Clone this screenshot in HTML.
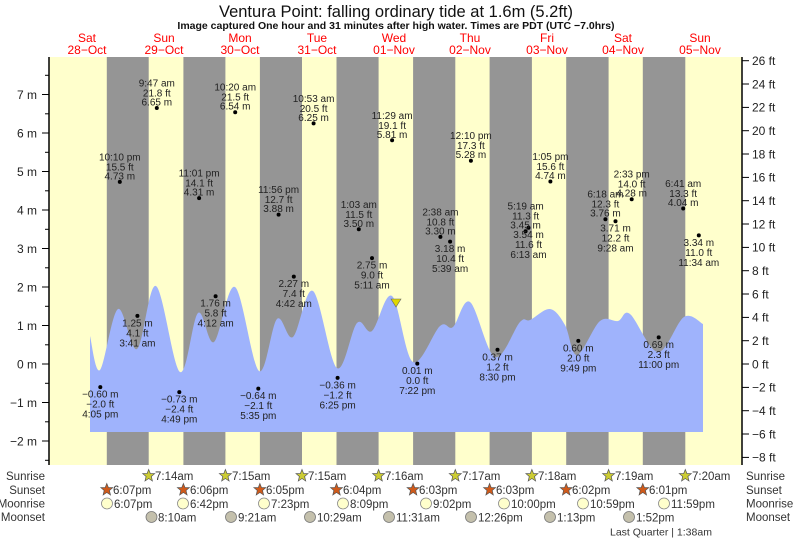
<!DOCTYPE html>
<html><head><meta charset="utf-8"><style>
html,body{margin:0;padding:0;background:#fff;}
svg{display:block;font-family:"Liberation Sans",sans-serif;}
.a{font-size:10px;text-anchor:middle;fill:#222;}
.r{font-size:11.5px;fill:#333;}
</style></head><body>
<svg width="793" height="539" viewBox="0 0 793 539" xmlns="http://www.w3.org/2000/svg">
<rect x="0" y="0" width="793" height="539" fill="#fff"/>
<text x="396" y="17" font-size="16.5" text-anchor="middle" fill="#111">Ventura Point: falling  ordinary tide at 1.6m (5.2ft)</text>
<text x="396" y="29" font-size="10.5" font-weight="bold" text-anchor="middle" fill="#111">Image captured One hour and 31 minutes after high water. Times are PDT (UTC −7.0hrs)</text>
<g font-size="12" fill="#ff0000" text-anchor="middle">
<text x="87" y="42">Sat</text><text x="87" y="54">28−Oct</text>
<text x="164" y="42">Sun</text><text x="164" y="54">29−Oct</text>
<text x="240" y="42">Mon</text><text x="240" y="54">30−Oct</text>
<text x="317" y="42">Tue</text><text x="317" y="54">31−Oct</text>
<text x="394" y="42">Wed</text><text x="394" y="54">01−Nov</text>
<text x="470" y="42">Thu</text><text x="470" y="54">02−Nov</text>
<text x="547" y="42">Fri</text><text x="547" y="54">03−Nov</text>
<text x="623" y="42">Sat</text><text x="623" y="54">04−Nov</text>
<text x="700" y="42">Sun</text><text x="700" y="54">05−Nov</text>
</g>
<rect x="49" y="57" width="693" height="408" fill="#ffffcc"/>
<g fill="#959595">
<rect x="106.8" y="57" width="41.9" height="408"/>
<rect x="183.4" y="57" width="42" height="408"/>
<rect x="259.9" y="57" width="42.1" height="408"/>
<rect x="336.5" y="57" width="42.1" height="408"/>
<rect x="413.1" y="57" width="42.2" height="408"/>
<rect x="489.6" y="57" width="42.3" height="408"/>
<rect x="566.2" y="57" width="42.4" height="408"/>
<rect x="642.8" y="57" width="42.5" height="408"/>
</g>
<path id="tide" fill="#9fb3fc" d=""/>
<polygon points="391,299 401,299 396,307" fill="#e0d800" stroke="#666" stroke-width="0.6"/>
<!-- axes -->
<line x1="49" y1="57" x2="49" y2="465" stroke="#000" stroke-width="1.5"/>
<line x1="742" y1="57" x2="742" y2="465" stroke="#000" stroke-width="1.5"/>
<g stroke="#000" stroke-width="1">
<line x1="42" y1="94.5" x2="49" y2="94.5"/><line x1="42" y1="133" x2="49" y2="133"/><line x1="42" y1="171.5" x2="49" y2="171.5"/><line x1="42" y1="210" x2="49" y2="210"/><line x1="42" y1="248.5" x2="49" y2="248.5"/><line x1="42" y1="287" x2="49" y2="287"/><line x1="42" y1="325.5" x2="49" y2="325.5"/><line x1="42" y1="364" x2="49" y2="364"/><line x1="42" y1="402.5" x2="49" y2="402.5"/><line x1="42" y1="441" x2="49" y2="441"/>
<line x1="45" y1="75.3" x2="49" y2="75.3"/><line x1="45" y1="113.8" x2="49" y2="113.8"/><line x1="45" y1="152.3" x2="49" y2="152.3"/><line x1="45" y1="190.8" x2="49" y2="190.8"/><line x1="45" y1="229.3" x2="49" y2="229.3"/><line x1="45" y1="267.8" x2="49" y2="267.8"/><line x1="45" y1="306.3" x2="49" y2="306.3"/><line x1="45" y1="344.8" x2="49" y2="344.8"/><line x1="45" y1="383.3" x2="49" y2="383.3"/><line x1="45" y1="421.8" x2="49" y2="421.8"/><line x1="45" y1="460.3" x2="49" y2="460.3"/>
</g>
<g font-size="12" fill="#222" text-anchor="end">
<text x="37" y="99">7 m</text><text x="37" y="137.5">6 m</text><text x="37" y="176">5 m</text><text x="37" y="214.5">4 m</text><text x="37" y="253">3 m</text><text x="37" y="291.5">2 m</text><text x="37" y="330">1 m</text><text x="37" y="368.5">0 m</text><text x="37" y="407">−1 m</text><text x="37" y="445.5">−2 m</text>
</g>
<g stroke="#000" stroke-width="1">
<line x1="742" y1="60.7" x2="749" y2="60.7"/><line x1="742" y1="84" x2="749" y2="84"/><line x1="742" y1="107.4" x2="749" y2="107.4"/><line x1="742" y1="130.7" x2="749" y2="130.7"/><line x1="742" y1="154" x2="749" y2="154"/><line x1="742" y1="177.4" x2="749" y2="177.4"/><line x1="742" y1="200.7" x2="749" y2="200.7"/><line x1="742" y1="224" x2="749" y2="224"/><line x1="742" y1="247.4" x2="749" y2="247.4"/><line x1="742" y1="270.7" x2="749" y2="270.7"/><line x1="742" y1="294" x2="749" y2="294"/><line x1="742" y1="317.4" x2="749" y2="317.4"/><line x1="742" y1="340.7" x2="749" y2="340.7"/><line x1="742" y1="364" x2="749" y2="364"/><line x1="742" y1="387.4" x2="749" y2="387.4"/><line x1="742" y1="410.7" x2="749" y2="410.7"/><line x1="742" y1="434" x2="749" y2="434"/><line x1="742" y1="457.4" x2="749" y2="457.4"/>
</g>
<g font-size="12" fill="#222">
<text x="752" y="65">26 ft</text><text x="752" y="88.3">24 ft</text><text x="752" y="111.7">22 ft</text><text x="752" y="135">20 ft</text><text x="752" y="158.3">18 ft</text><text x="752" y="181.7">16 ft</text><text x="752" y="205">14 ft</text><text x="752" y="228.3">12 ft</text><text x="752" y="251.7">10 ft</text><text x="752" y="275">8 ft</text><text x="752" y="298.3">6 ft</text><text x="752" y="321.7">4 ft</text><text x="752" y="345">2 ft</text><text x="752" y="368.3">0 ft</text><text x="752" y="391.7">−2 ft</text><text x="752" y="415">−4 ft</text><text x="752" y="438.3">−6 ft</text><text x="752" y="461.7">−8 ft</text>
</g>
<!-- dots -->
<g fill="#000">
<circle cx="100.3" cy="387.1" r="2"/><circle cx="119.8" cy="181.9" r="2"/><circle cx="137.4" cy="315.9" r="2"/><circle cx="156.8" cy="108" r="2"/><circle cx="179.3" cy="392.1" r="2"/><circle cx="199.1" cy="198.1" r="2"/><circle cx="215.6" cy="296.2" r="2"/><circle cx="235.2" cy="112.2" r="2"/><circle cx="258.3" cy="388.6" r="2"/><circle cx="278.6" cy="214.6" r="2"/><circle cx="293.8" cy="276.6" r="2"/><circle cx="313.6" cy="123.4" r="2"/><circle cx="337.6" cy="377.9" r="2"/><circle cx="358.8" cy="229.3" r="2"/><circle cx="372" cy="258.1" r="2"/><circle cx="392.1" cy="140.3" r="2"/><circle cx="417.3" cy="363.6" r="2"/><circle cx="440.4" cy="236.9" r="2"/><circle cx="450.1" cy="241.6" r="2"/><circle cx="470.9" cy="160.7" r="2"/><circle cx="497.5" cy="349.8" r="2"/><circle cx="525.6" cy="231.2" r="2"/><circle cx="528.5" cy="227.7" r="2"/><circle cx="550.4" cy="181.5" r="2"/><circle cx="578.3" cy="340.9" r="2"/><circle cx="605.4" cy="219.2" r="2"/><circle cx="615.5" cy="221.2" r="2"/><circle cx="631.7" cy="199.2" r="2"/><circle cx="658.7" cy="337.4" r="2"/><circle cx="683.2" cy="208.5" r="2"/><circle cx="698.8" cy="235.4" r="2"/>
</g>
<g class="a">
<text x="100.3" y="397.6">−0.60 m</text><text x="100.3" y="407.6">−2.0 ft</text><text x="100.3" y="417.6">4:05 pm</text>
<text x="119.8" y="160.4">10:10 pm</text><text x="119.8" y="170.4">15.5 ft</text><text x="119.8" y="179.4">4.73 m</text>
<text x="137.4" y="326.4">1.25 m</text><text x="137.4" y="336.4">4.1 ft</text><text x="137.4" y="346.4">3:41 am</text>
<text x="156.8" y="86.5">9:47 am</text><text x="156.8" y="96.5">21.8 ft</text><text x="156.8" y="105.5">6.65 m</text>
<text x="179.3" y="402.6">−0.73 m</text><text x="179.3" y="412.6">−2.4 ft</text><text x="179.3" y="422.6">4:49 pm</text>
<text x="199.1" y="176.6">11:01 pm</text><text x="199.1" y="186.6">14.1 ft</text><text x="199.1" y="195.6">4.31 m</text>
<text x="215.6" y="306.7">1.76 m</text><text x="215.6" y="316.7">5.8 ft</text><text x="215.6" y="326.7">4:12 am</text>
<text x="235.2" y="90.7">10:20 am</text><text x="235.2" y="100.7">21.5 ft</text><text x="235.2" y="109.7">6.54 m</text>
<text x="258.3" y="399.1">−0.64 m</text><text x="258.3" y="409.1">−2.1 ft</text><text x="258.3" y="419.1">5:35 pm</text>
<text x="278.6" y="193.1">11:56 pm</text><text x="278.6" y="203.1">12.7 ft</text><text x="278.6" y="212.1">3.88 m</text>
<text x="293.8" y="287.1">2.27 m</text><text x="293.8" y="297.1">7.4 ft</text><text x="293.8" y="307.1">4:42 am</text>
<text x="313.6" y="101.9">10:53 am</text><text x="313.6" y="111.9">20.5 ft</text><text x="313.6" y="120.9">6.25 m</text>
<text x="337.6" y="388.4">−0.36 m</text><text x="337.6" y="398.4">−1.2 ft</text><text x="337.6" y="408.4">6:25 pm</text>
<text x="358.8" y="207.8">1:03 am</text><text x="358.8" y="217.8">11.5 ft</text><text x="358.8" y="226.8">3.50 m</text>
<text x="372" y="268.6">2.75 m</text><text x="372" y="278.6">9.0 ft</text><text x="372" y="288.6">5:11 am</text>
<text x="392.1" y="118.8">11:29 am</text><text x="392.1" y="128.8">19.1 ft</text><text x="392.1" y="137.8">5.81 m</text>
<text x="417.3" y="374.1">0.01 m</text><text x="417.3" y="384.1">0.0 ft</text><text x="417.3" y="394.1">7:22 pm</text>
<text x="440.4" y="215.4">2:38 am</text><text x="440.4" y="225.4">10.8 ft</text><text x="440.4" y="234.4">3.30 m</text>
<text x="450.1" y="252.1">3.18 m</text><text x="450.1" y="262.1">10.4 ft</text><text x="450.1" y="272.1">5:39 am</text>
<text x="470.9" y="139.2">12:10 pm</text><text x="470.9" y="149.2">17.3 ft</text><text x="470.9" y="158.2">5.28 m</text>
<text x="497.5" y="360.3">0.37 m</text><text x="497.5" y="370.3">1.2 ft</text><text x="497.5" y="380.3">8:30 pm</text>
<text x="525.6" y="209.7">5:19 am</text><text x="525.6" y="219.7">11.3 ft</text><text x="525.6" y="228.7">3.45 m</text>
<text x="528.5" y="238.2">3.54 m</text><text x="528.5" y="248.2">11.6 ft</text><text x="528.5" y="258.2">6:13 am</text>
<text x="550.4" y="160">1:05 pm</text><text x="550.4" y="170">15.6 ft</text><text x="550.4" y="179">4.74 m</text>
<text x="578.3" y="351.4">0.60 m</text><text x="578.3" y="361.4">2.0 ft</text><text x="578.3" y="371.4">9:49 pm</text>
<text x="605.4" y="197.7">6:18 am</text><text x="605.4" y="207.7">12.3 ft</text><text x="605.4" y="216.7">3.76 m</text>
<text x="615.5" y="231.7">3.71 m</text><text x="615.5" y="241.7">12.2 ft</text><text x="615.5" y="251.7">9:28 am</text>
<text x="631.7" y="177.7">2:33 pm</text><text x="631.7" y="187.7">14.0 ft</text><text x="631.7" y="196.7">4.28 m</text>
<text x="658.7" y="347.9">0.69 m</text><text x="658.7" y="357.9">2.3 ft</text><text x="658.7" y="367.9">11:00 pm</text>
<text x="683.2" y="187">6:41 am</text><text x="683.2" y="197">13.3 ft</text><text x="683.2" y="206">4.04 m</text>
<text x="698.8" y="245.9">3.34 m</text><text x="698.8" y="255.9">11.0 ft</text><text x="698.8" y="265.9">11:34 am</text>
</g>
<!-- bottom rows -->
<g class="r" text-anchor="end">
<text x="45" y="480">Sunrise</text><text x="45" y="494">Sunset</text><text x="45" y="507.5">Moonrise</text><text x="45" y="521">Moonset</text>
</g>
<g class="r">
<text x="746" y="480">Sunrise</text><text x="746" y="494">Sunset</text><text x="746" y="507.5">Moonrise</text><text x="746" y="521">Moonset</text>
</g>
<defs>
<polygon id="st" points="0,-6 1.6,-2 6,-1.9 2.6,1 3.7,5.5 0,3 -3.7,5.5 -2.6,1 -6,-1.9 -1.6,-2" stroke="#555" stroke-width="0.7"/>
</defs>
<g fill="#cccc33">
<use href="#st" x="148.7" y="475.5"/><use href="#st" x="225.4" y="475.5"/><use href="#st" x="302" y="475.5"/><use href="#st" x="378.6" y="475.5"/><use href="#st" x="455.3" y="475.5"/><use href="#st" x="531.9" y="475.5"/><use href="#st" x="608.6" y="475.5"/><use href="#st" x="685.3" y="475.5"/>
</g>
<g fill="#d05a1a">
<use href="#st" x="106.8" y="489.5"/><use href="#st" x="183.4" y="489.5"/><use href="#st" x="259.9" y="489.5"/><use href="#st" x="336.5" y="489.5"/><use href="#st" x="413.1" y="489.5"/><use href="#st" x="489.6" y="489.5"/><use href="#st" x="566.2" y="489.5"/><use href="#st" x="642.8" y="489.5"/>
</g>
<g class="r">
<text x="155" y="480">7:14am</text><text x="232" y="480">7:15am</text><text x="308" y="480">7:15am</text><text x="385" y="480">7:16am</text><text x="462" y="480">7:17am</text><text x="538" y="480">7:18am</text><text x="615" y="480">7:19am</text><text x="692" y="480">7:20am</text>
<text x="113" y="494">6:07pm</text><text x="190" y="494">6:06pm</text><text x="266" y="494">6:05pm</text><text x="343" y="494">6:04pm</text><text x="419" y="494">6:03pm</text><text x="496" y="494">6:03pm</text><text x="572" y="494">6:02pm</text><text x="649" y="494">6:01pm</text>
</g>
<g fill="#ffffcc" stroke="#888" stroke-width="0.8">
<circle cx="107" cy="503.5" r="5.5"/><circle cx="183" cy="503.5" r="5.5"/><circle cx="264" cy="503.5" r="5.5"/><circle cx="343" cy="503.5" r="5.5"/><circle cx="426" cy="503.5" r="5.5"/><circle cx="504" cy="503.5" r="5.5"/><circle cx="583" cy="503.5" r="5.5"/><circle cx="664" cy="503.5" r="5.5"/>
</g>
<g fill="#c4c0ac" stroke="#777" stroke-width="0.8">
<circle cx="151.5" cy="517" r="5.5"/><circle cx="231" cy="517" r="5.5"/><circle cx="310" cy="517" r="5.5"/><circle cx="389" cy="517" r="5.5"/><circle cx="471" cy="517" r="5.5"/><circle cx="550" cy="517" r="5.5"/><circle cx="629" cy="517" r="5.5"/>
</g>
<g class="r">
<text x="114" y="508">6:07pm</text><text x="190" y="508">6:42pm</text><text x="271" y="508">7:23pm</text><text x="350" y="508">8:09pm</text><text x="433" y="508">9:02pm</text><text x="511" y="508">10:00pm</text><text x="590" y="508">10:59pm</text><text x="671" y="508">11:59pm</text>
<text x="158" y="521.5">8:10am</text><text x="238" y="521.5">9:21am</text><text x="317" y="521.5">10:29am</text><text x="396" y="521.5">11:31am</text><text x="478" y="521.5">12:26pm</text><text x="557" y="521.5">1:13pm</text><text x="636" y="521.5">1:52pm</text>
<text x="610" y="535.5" font-size="10.5">Last Quarter | 1:38am</text>
</g>
</svg>
<script>
var p=[[90,336],[100,370],[118,309],[137,349],[156,286],[180,372],[198,313],[214,342],[235,287],[259,371],[277,319],[293,337],[313,291],[337,368],[357,323],[372,331],[392,296],[413,362],[440,326],[453,327],[470,302],[495,357],[520,322],[530,320],[550,309],[565,325],[577,355],[600,321],[618,321],[630,314],[658,352],[684,317],[703,324]];
var d="M90,432 L"+p[0][0]+","+p[0][1];
for(var i=0;i<p.length-1;i++){var a=p[i>0?i-1:0],b=p[i],c=p[i+1],e=p[i+2<p.length?i+2:i+1];
var c1x=b[0]+(c[0]-a[0])/6,c1y=b[1]+(c[1]-a[1])/6,c2x=c[0]-(e[0]-b[0])/6,c2y=c[1]-(e[1]-b[1])/6;
d+=" C"+c1x+","+c1y+" "+c2x+","+c2y+" "+c[0]+","+c[1];}
d+=" L703,432 Z";document.getElementById("tide").setAttribute("d",d);
</script>
</body></html>
